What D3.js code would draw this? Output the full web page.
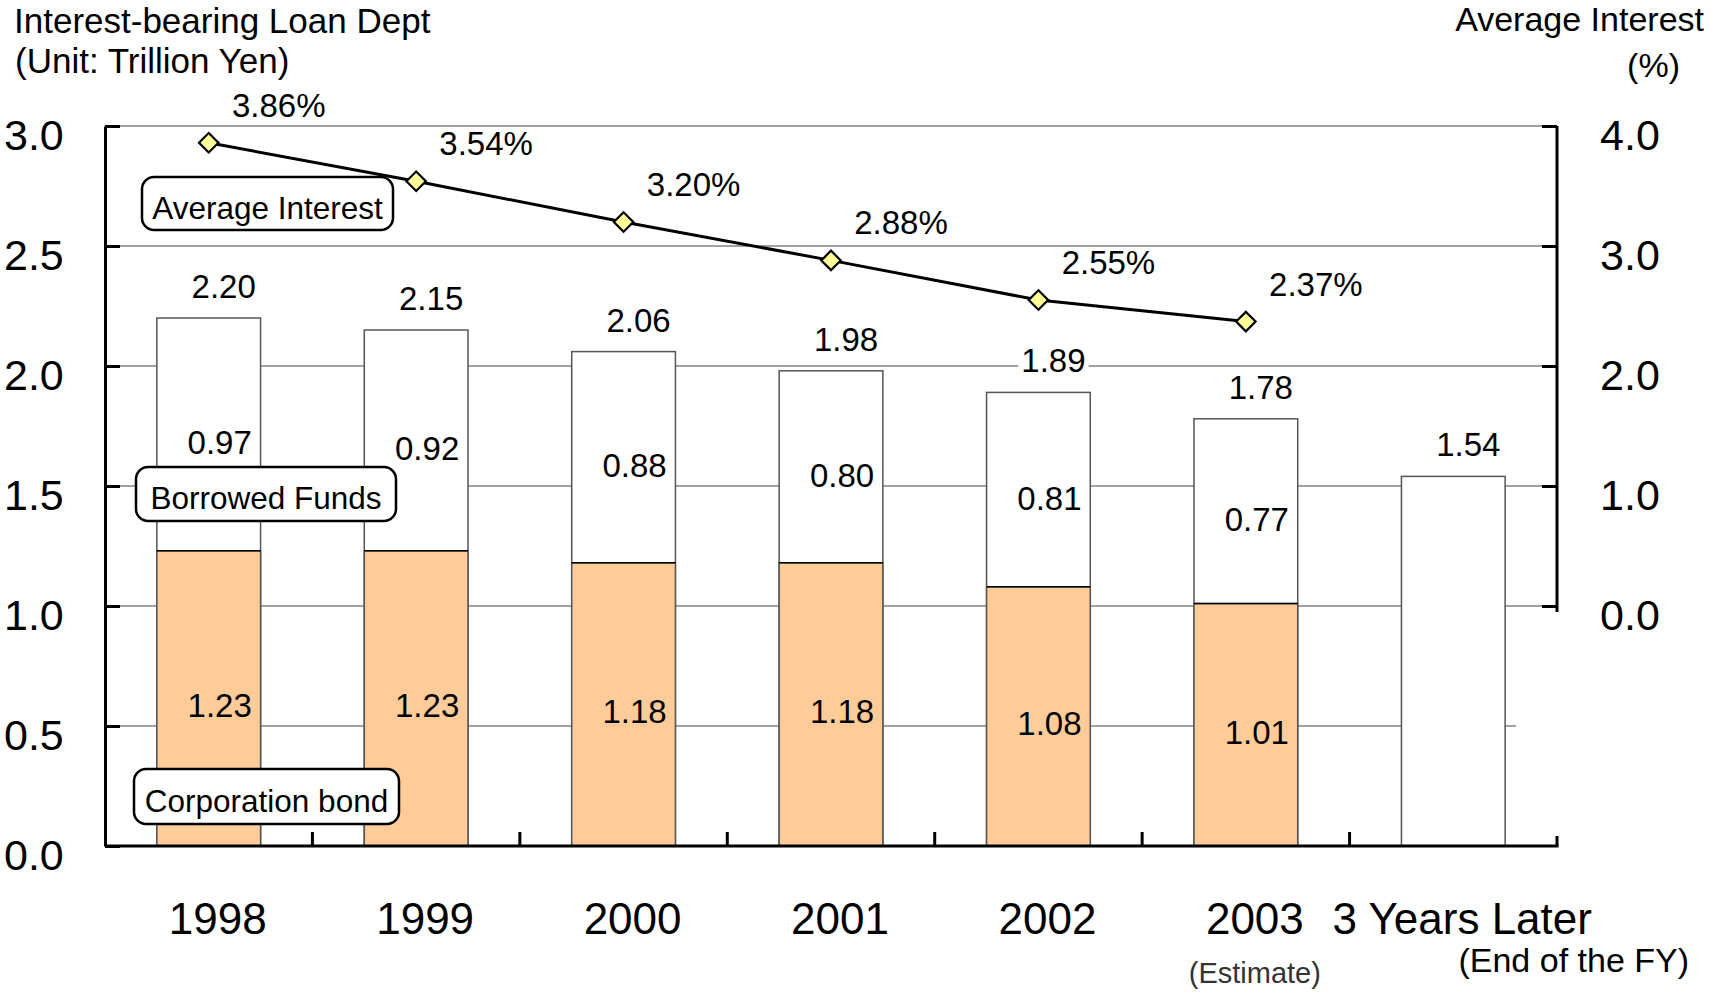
<!DOCTYPE html>
<html>
<head>
<meta charset="utf-8">
<script src="https://cdn.jsdelivr.net/npm/d3@7"></script>
<style>
  body { margin: 0; background: #fff; }
  text { font-family: "Liberation Sans", Arial, sans-serif; fill: #000; }
</style>
</head>
<body>
<div id="chart"></div>
<script>
// chart data
var categories = ["1998", "1999", "2000", "2001", "2002", "2003", "3 Years Later"];
var subLabels = ["", "", "", "", "", "(Estimate)", ""];
var corpBond = [1.23, 1.23, 1.18, 1.18, 1.08, 1.01, null];
var borrowed = [0.97, 0.92, 0.88, 0.80, 0.81, 0.77, null];
var totals = [2.20, 2.15, 2.06, 1.98, 1.89, 1.78, 1.54];
var avgInterest = [3.86, 3.54, 3.20, 2.88, 2.55, 2.37];
var leftTicks = [0, 0.5, 1.0, 1.5, 2.0, 2.5, 3.0];
var rightTicks = [0, 1.0, 2.0, 3.0, 4.0];

var svgWidth = 1711;
var svgHeight = 994;

var margin = { top: 126, right: 154, bottom: 148, left: 105 };
var width = svgWidth - margin.left - margin.right;
var height = svgHeight - margin.top - margin.bottom;

var svg = d3.select("#chart")
  .append("svg")
  .attr("width", svgWidth)
  .attr("height", svgHeight);

var chartGroup = svg.append("g")
  .attr("transform", `translate(${margin.left}, ${margin.top})`);

// scales
var x = d3.scaleBand()
  .domain(categories)
  .range([0, width])
  .paddingInner(0.5)
  .paddingOuter(0.25);

var yLeft = d3.scaleLinear().domain([0, 3]).range([height, 0]);
var yRight = d3.scaleLinear().domain([0, 4]).range([yLeft(1), 0]);

var cx = d => x(d) + x.bandwidth() / 2;

var rows = categories.map((c, i) => ({
  cat: c, sub: subLabels[i], cb: corpBond[i], bf: borrowed[i], total: totals[i], rate: avgInterest[i]
}));

// gridlines
chartGroup.selectAll(".grid")
  .data(leftTicks.filter(t => t > 0))
  .enter()
  .append("line")
  .attr("x1", 0)
  .attr("x2", d => d < 1 ? x(categories[categories.length - 1]) + x.bandwidth() + 11 : width)
  .attr("y1", d => yLeft(d))
  .attr("y2", d => yLeft(d))
  .attr("stroke", "#444")
  .attr("stroke-width", 1.2);

// bars: total (white) then corporation bond (orange) on top
chartGroup.selectAll(".bar-total")
  .data(rows)
  .enter()
  .append("rect")
  .attr("x", d => x(d.cat))
  .attr("width", x.bandwidth())
  .attr("y", d => yLeft(d.total))
  .attr("height", d => height - yLeft(d.total))
  .attr("fill", "#fff")
  .attr("stroke", "#555")
  .attr("stroke-width", 1.5);

chartGroup.selectAll(".bar-cb")
  .data(rows.filter(d => d.cb != null))
  .enter()
  .append("rect")
  .attr("x", d => x(d.cat))
  .attr("width", x.bandwidth())
  .attr("y", d => yLeft(d.cb))
  .attr("height", d => height - yLeft(d.cb))
  .attr("fill", "#FFCC99")
  .attr("stroke", "#555")
  .attr("stroke-width", 1.5);

chartGroup.selectAll(".bar-cb-top")
  .data(rows.filter(d => d.cb != null))
  .enter()
  .append("line")
  .attr("x1", d => x(d.cat))
  .attr("x2", d => x(d.cat) + x.bandwidth())
  .attr("y1", d => yLeft(d.cb))
  .attr("y2", d => yLeft(d.cb))
  .attr("stroke", "#000")
  .attr("stroke-width", 1.5);

// left axis
var leftAxis = d3.axisLeft(yLeft).tickValues(leftTicks).tickSize(-15).tickSizeOuter(0);
var gLeft = chartGroup.append("g").call(leftAxis);
gLeft.selectAll("text").remove();
gLeft.select(".domain").attr("stroke-width", 3);
gLeft.selectAll(".tick line").attr("stroke-width", 3);

chartGroup.selectAll(".ylabel")
  .data(leftTicks)
  .enter()
  .append("text")
  .attr("x", -101)
  .attr("y", d => yLeft(d) + 24)
  .attr("font-size", "43px")
  .text(d => d.toFixed(1));

// right axis
var rightAxis = d3.axisRight(yRight).tickValues(rightTicks).tickSize(-15).tickSizeOuter(0);
var gRight = chartGroup.append("g")
  .attr("transform", `translate(${width}, 0)`)
  .call(rightAxis);
gRight.selectAll("text").remove();
gRight.select(".domain").attr("stroke-width", 3).attr("d", `M0,0V${yRight(0) + 6}`);
gRight.selectAll(".tick line").attr("stroke-width", 3);

chartGroup.selectAll(".rlabel")
  .data(rightTicks)
  .enter()
  .append("text")
  .attr("x", width + 73)
  .attr("y", d => yRight(d) + 24)
  .attr("text-anchor", "middle")
  .attr("font-size", "43px")
  .text(d => d.toFixed(1));

// bottom axis with ticks at category boundaries
var gap = x.step() * x.paddingInner() / 2;
chartGroup.append("line")
  .attr("x1", 0).attr("x2", width + 1.5)
  .attr("y1", height).attr("y2", height)
  .attr("stroke", "#000").attr("stroke-width", 3);

chartGroup.selectAll(".xtick")
  .data(categories.slice(1).map(c => x(c) - gap).concat([width]))
  .enter()
  .append("line")
  .attr("x1", d => d).attr("x2", d => d)
  .attr("y1", height)
  .attr("y2", (d, i, arr) => i === arr.length - 1 ? height - 10 : height - 14)
  .attr("stroke", "#000")
  .attr("stroke-width", 3);

chartGroup.selectAll(".xlabel")
  .data(rows)
  .enter()
  .append("text")
  .attr("x", d => cx(d.cat) + 9)
  .attr("y", height + 88)
  .attr("text-anchor", "middle")
  .attr("font-size", "44px")
  .text(d => d.cat);

chartGroup.selectAll(".xsub")
  .data(rows.filter(d => d.sub))
  .enter()
  .append("text")
  .attr("x", d => cx(d.cat) + 9)
  .attr("y", height + 137)
  .attr("text-anchor", "middle")
  .attr("font-size", "29px")
  .style("fill", "#333")
  .text(d => d.sub);

// average interest line
var line = d3.line()
  .x(d => cx(d.cat))
  .y(d => yRight(d.rate));

var rateRows = rows.filter(d => d.rate != null);

chartGroup.append("path")
  .datum(rateRows)
  .attr("d", line)
  .attr("fill", "none")
  .attr("stroke", "#000")
  .attr("stroke-width", 3);

chartGroup.selectAll(".marker")
  .data(rateRows)
  .enter()
  .append("path")
  .attr("d", d3.symbol(d3.symbolSquare, 190))
  .attr("transform", d => `translate(${cx(d.cat)}, ${yRight(d.rate)}) rotate(45)`)
  .attr("fill", "#FFFF99")
  .attr("stroke", "#000")
  .attr("stroke-width", 2.2);

// label helper with white background
function addLabel(g, xPos, yPos, txt, size, withBg) {
  var t = g.append("text")
    .attr("x", xPos)
    .attr("y", yPos)
    .attr("text-anchor", "middle")
    .attr("font-size", size)
    .text(txt);
  if (withBg) {
    var b = t.node().getBBox();
    g.insert("rect", function() { return t.node(); })
      .attr("x", b.x - 3)
      .attr("y", b.y + 4)
      .attr("width", b.width + 6)
      .attr("height", b.height - 8)
      .attr("fill", "#fff");
  }
  return t;
}

var labelGroup = chartGroup.append("g");

rateRows.forEach(function(d) {
  addLabel(labelGroup, cx(d.cat) + 70, yRight(d.rate) - 26, d.rate.toFixed(2) + "%", "33px", true);
});

rows.forEach(function(d) {
  addLabel(labelGroup, cx(d.cat) + 15, yLeft(d.total) - 20, d.total.toFixed(2), "33px", true);
  if (d.bf != null) {
    addLabel(labelGroup, cx(d.cat) + 11, yLeft(d.cb + d.bf / 2) + 20, d.bf.toFixed(2), "33px", false);
  }
  if (d.cb != null) {
    addLabel(labelGroup, cx(d.cat) + 11, yLeft(d.cb / 2) + 19, d.cb.toFixed(2), "33px", false);
  }
});

// series name boxes
var boxes = [
  { name: "Average Interest", x: 142, y: 177, w: 251, h: 53 },
  { name: "Borrowed Funds", x: 136, y: 467, w: 260, h: 54 },
  { name: "Corporation bond", x: 134, y: 769, w: 265, h: 55 }
];

boxes.forEach(function(b) {
  svg.append("rect")
    .attr("x", b.x).attr("y", b.y)
    .attr("width", b.w).attr("height", b.h)
    .attr("rx", 12).attr("ry", 12)
    .attr("fill", "#fff")
    .attr("stroke", "#000")
    .attr("stroke-width", 2.5);
  svg.append("text")
    .attr("x", b.x + b.w / 2)
    .attr("y", b.y + b.h / 2 + 15)
    .attr("text-anchor", "middle")
    .attr("font-size", "31.5px")
    .text(b.name);
});

// axis titles
svg.append("text").attr("x", 14).attr("y", 33).attr("font-size", "35px")
  .text("Interest-bearing Loan Dept");
svg.append("text").attr("x", 15).attr("y", 73).attr("font-size", "35px")
  .text("(Unit: Trillion Yen)");
svg.append("text").attr("x", 1704).attr("y", 31).attr("text-anchor", "end").attr("font-size", "34px")
  .text("Average Interest");
svg.append("text").attr("x", 1680).attr("y", 77).attr("text-anchor", "end").attr("font-size", "34px")
  .text("(%)");
svg.append("text").attr("x", 1689).attr("y", 972).attr("text-anchor", "end").attr("font-size", "34px")
  .text("(End of the FY)");
</script>
</body>
</html>
